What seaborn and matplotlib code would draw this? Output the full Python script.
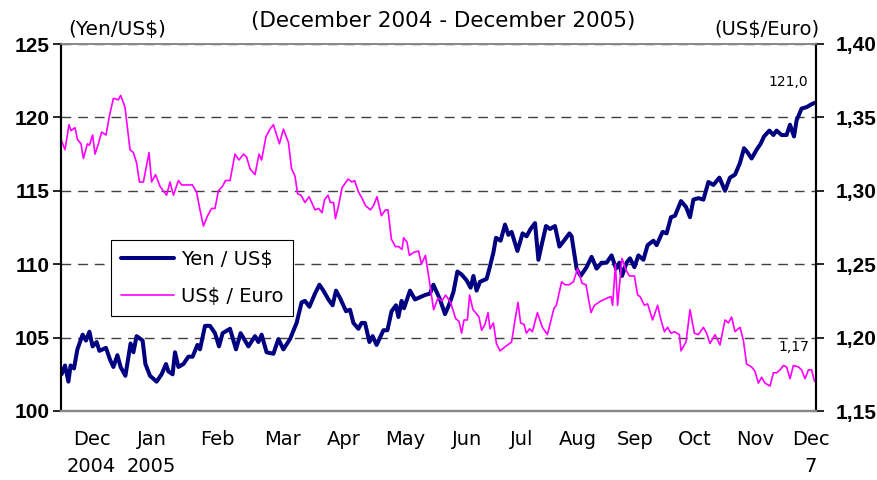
import matplotlib
matplotlib.use("Agg")
import matplotlib.pyplot as plt
import pandas as pd
import seaborn as sns

# days counted from the first quote (late Nov 2004)
yen_day = [0.3, 2.0, 3.7, 4.8, 6.5, 8.2, 10.8, 12.5, 14.2, 15.8, 17.8, 19.2, 22.5, 24.5, 26.2,
           28.2, 29.8, 32.2, 34.8, 36.2, 37.8, 40.8, 42.2, 44.5, 47.8, 50.3, 52.5, 53.7, 55.8,
           57.0, 58.7, 61.2, 63.7, 65.8, 68.2, 69.5, 72.0, 74.5, 77.0, 79.0, 80.8, 84.5, 87.5,
           89.8, 93.7, 97.0, 98.7, 100.3, 102.8, 106.2, 108.7, 111.2, 114.5, 117.8, 120.3,
           122.0, 124.2, 127.0, 129.2, 131.2, 133.7, 135.8, 137.5, 139.5, 142.5, 144.5, 146.2,
           148.7, 150.3, 152.0, 154.2, 155.8, 157.8, 161.2, 163.2, 165.3, 167.5, 168.7, 170.3,
           171.5, 174.5, 177.0, 180.3, 182.0, 184.5, 186.2, 189.5, 192.0, 194.2, 196.2, 198.2,
           200.3, 202.8, 204.8, 206.2, 207.8, 209.5, 212.8, 214.2, 216.2, 217.5, 219.8, 222.0,
           223.7, 225.3, 228.2, 230.8, 232.8, 234.8, 237.0, 238.7, 240.3, 242.5, 244.5, 247.0,
           249.2, 251.5, 254.2, 255.3, 257.8, 259.8, 262.8, 265.3, 267.8, 270.3, 272.8, 275.3,
           277.5, 279.2, 280.5, 282.8, 284.5, 286.7, 288.7, 291.2, 293.3, 296.2, 297.8, 300.8,
           302.8, 305.0, 307.0, 310.0, 312.5, 314.5, 316.2, 318.7, 321.2, 323.7, 326.2, 329.2,
           332.0, 334.5, 337.0, 339.5, 341.5, 342.8, 345.3, 347.8, 349.8, 351.5, 354.2, 356.2,
           357.8, 360.3, 362.8, 364.5, 366.5, 367.8, 370.3, 372.8, 375.3, 377.0]
yen_rate = [102.5, 103.1, 102.0, 103.1, 102.9, 104.2, 105.2, 104.8, 105.4, 104.4, 104.7, 104.1,
            104.3, 103.5, 103.0, 103.8, 103.0, 102.4, 104.6, 104.0, 105.1, 104.8, 103.2, 102.4,
            102.0, 102.5, 103.2, 102.7, 102.5, 104.0, 103.0, 103.2, 103.7, 103.7, 104.5, 104.2,
            105.8, 105.8, 105.3, 104.4, 105.3, 105.6, 104.2, 105.3, 104.4, 105.1, 104.7, 105.2,
            104.0, 103.9, 104.9, 104.2, 104.9, 106.0, 107.4, 107.5, 107.1, 108.0, 108.6, 108.2,
            107.6, 107.2, 108.2, 107.7, 106.8, 106.9, 106.0, 105.6, 106.0, 106.0, 104.7, 105.1,
            104.5, 105.5, 105.5, 106.8, 107.2, 106.4, 107.5, 107.0, 108.2, 107.6, 107.8, 107.9,
            108.0, 108.6, 107.6, 106.6, 107.3, 108.1, 109.5, 109.3, 108.9, 108.4, 109.2, 108.2,
            108.8, 109.0, 109.7, 110.8, 111.8, 111.6, 112.7, 112.0, 112.2, 110.9, 112.1, 111.9,
            112.4, 112.8, 110.3, 111.3, 112.6, 112.4, 112.6, 111.2, 111.6, 112.1, 111.9, 109.7,
            109.2, 109.8, 110.5, 109.7, 110.1, 110.1, 110.6, 109.7, 110.1, 109.2, 110.1, 110.4,
            109.8, 110.6, 110.3, 111.3, 111.6, 111.3, 112.2, 112.1, 113.2, 113.3, 114.3, 113.9,
            113.2, 114.4, 114.5, 114.4, 115.6, 115.4, 115.9, 115.0, 115.9, 116.1, 116.9, 117.9,
            117.7, 117.2, 117.8, 118.2, 118.7, 119.1, 118.8, 119.1, 118.8, 118.8, 119.5, 118.7,
            119.8, 120.6, 120.7, 120.9, 121.0]

euro_day = [0.3, 2.0, 4.0, 5.0, 7.0, 8.2, 10.0, 11.2, 13.2, 14.2, 15.8, 17.0, 18.7, 20.3, 22.5,
            24.2, 26.2, 28.7, 29.8, 32.0, 34.5, 36.2, 37.8, 39.2, 41.2, 44.0, 45.3, 47.3, 49.5,
            52.8, 54.5, 56.2, 58.7, 60.3, 63.7, 65.7, 67.8, 69.5, 71.2, 73.3, 75.3, 77.0, 78.7,
            80.7, 82.3, 84.5, 87.0, 89.0, 91.2, 92.8, 94.5, 97.0, 99.0, 100.3, 102.5, 104.5,
            106.2, 109.2, 111.2, 113.7, 115.3, 117.0, 118.3, 120.0, 122.0, 124.0, 127.0, 128.8,
            130.5, 131.8, 133.5, 134.7, 136.3, 137.2, 138.8, 140.5, 143.5, 145.5, 146.8, 148.8,
            150.5, 152.2, 154.7, 156.3, 158.0, 160.2, 162.2, 163.5, 165.2, 167.2, 168.8, 170.5,
            171.3, 173.0, 174.2, 176.3, 178.8, 180.2, 182.2, 183.8, 186.3, 188.5, 190.5, 192.3,
            194.8, 197.3, 199.0, 200.3, 201.5, 203.2, 204.3, 206.0, 207.3, 209.0, 210.3, 212.0,
            213.5, 214.5, 216.2, 217.7, 219.5, 222.3, 225.3, 227.0, 228.5, 229.8, 231.5, 232.7,
            234.3, 235.7, 238.2, 240.7, 243.2, 246.5, 247.7, 250.3, 252.0, 254.0, 256.2, 258.3,
            260.5, 262.5, 265.0, 266.7, 270.0, 273.3, 275.0, 275.8, 277.2, 278.3, 280.5, 282.5,
            284.2, 286.7, 288.3, 289.5, 291.7, 293.3, 295.8, 298.3, 300.0, 301.7, 303.3, 305.0,
            306.7, 309.2, 310.0, 312.5, 314.5, 316.7, 318.7, 321.2, 322.8, 324.5, 327.0, 329.5,
            332.0, 333.7, 335.3, 337.0, 339.5, 341.2, 342.8, 345.3, 347.0, 348.7, 350.3, 352.0,
            354.5, 356.2, 357.8, 359.5, 361.2, 362.8, 364.5, 366.2, 368.7, 370.3, 372.0, 373.7,
            375.3, 376.8]
euro_rate = [1.334, 1.328, 1.345, 1.341, 1.343, 1.335, 1.332, 1.322, 1.332, 1.331, 1.338, 1.325,
             1.332, 1.340, 1.338, 1.351, 1.363, 1.362, 1.365, 1.357, 1.328, 1.326, 1.319, 1.306,
             1.306, 1.326, 1.306, 1.311, 1.303, 1.297, 1.306, 1.297, 1.307, 1.304, 1.304, 1.304,
             1.299, 1.287, 1.276, 1.283, 1.288, 1.288, 1.300, 1.303, 1.307, 1.307, 1.325, 1.321,
             1.325, 1.323, 1.315, 1.311, 1.325, 1.321, 1.337, 1.342, 1.345, 1.332, 1.342, 1.333,
             1.315, 1.310, 1.298, 1.297, 1.292, 1.296, 1.287, 1.288, 1.285, 1.294, 1.297, 1.292,
             1.292, 1.281, 1.290, 1.302, 1.308, 1.306, 1.307, 1.299, 1.295, 1.290, 1.287, 1.290,
             1.296, 1.283, 1.287, 1.287, 1.267, 1.262, 1.262, 1.260, 1.268, 1.265, 1.256, 1.258,
             1.259, 1.250, 1.256, 1.242, 1.219, 1.227, 1.225, 1.229, 1.224, 1.213, 1.211, 1.203,
             1.212, 1.212, 1.229, 1.219, 1.217, 1.214, 1.205, 1.209, 1.217, 1.206, 1.210, 1.196,
             1.191, 1.194, 1.197, 1.212, 1.224, 1.210, 1.209, 1.203, 1.206, 1.204, 1.217, 1.207,
             1.202, 1.220, 1.222, 1.238, 1.236, 1.236, 1.238, 1.247, 1.237, 1.236, 1.217, 1.222,
             1.225, 1.227, 1.228, 1.222, 1.250, 1.222, 1.254, 1.246, 1.242, 1.242, 1.229, 1.228,
             1.222, 1.223, 1.212, 1.222, 1.212, 1.204, 1.207, 1.203, 1.204, 1.202, 1.191, 1.197,
             1.219, 1.203, 1.202, 1.207, 1.203, 1.196, 1.202, 1.195, 1.212, 1.210, 1.214, 1.204,
             1.207, 1.198, 1.182, 1.180, 1.177, 1.169, 1.173, 1.169, 1.167, 1.176, 1.176, 1.178,
             1.181, 1.180, 1.172, 1.181, 1.180, 1.178, 1.172, 1.178, 1.178, 1.170]

month_labels = ["Dec\n2004", "Jan\n2005", "Feb", "Mar", "Apr", "May", "Jun", "Jul", "Aug",
                "Sep", "Oct", "Nov", "Dec\n7"]
month_pos = [15.3, 45.4, 78.3, 110.9, 141.2, 172.0, 202.9, 230.1, 258.4, 286.9, 317.0, 346.9, 374.9]

yen_ticks = [100, 105, 110, 115, 120, 125]
euro_ticks = [1.15, 1.20, 1.25, 1.30, 1.35, 1.40]

yen = pd.DataFrame({"day": yen_day, "rate": yen_rate})
euro = pd.DataFrame({"day": euro_day, "rate": euro_rate})

sns.set_theme(style="white")
plt.rcParams["font.family"] = ["DejaVu Sans"]
plt.rcParams["text.color"] = "black"
plt.rcParams["xtick.color"] = "black"
plt.rcParams["ytick.color"] = "black"
plt.rcParams["xtick.labelcolor"] = "black"
plt.rcParams["ytick.labelcolor"] = "black"
tick_font = {"family": "Liberation Sans", "weight": "bold", "size": 15}

fig = plt.figure(figsize=(8.77, 4.8), dpi=100)
ax = fig.add_axes([61 / 877, 1 - 411 / 480, 755 / 877, 367 / 480])
ax2 = ax.twinx()

sns.lineplot(data=yen, x="day", y="rate", ax=ax, color="#000080", lw=2.9,
             estimator=None, sort=False, legend=False)
sns.lineplot(data=euro, x="day", y="rate", ax=ax2, color="#FF00FF", lw=1.2,
             estimator=None, sort=False, legend=False)

ax.set_xlim(0, 377.5)
ax.set_ylim(100, 125)
ax2.set_ylim(1.15, 1.40)
ax.set_xlabel("")
ax.set_ylabel("")
ax2.set_xlabel("")
ax2.set_ylabel("")

ax.set_yticks(yen_ticks, [str(t) for t in yen_ticks], fontdict=tick_font)
ax2.set_yticks(euro_ticks, [f"{t:.2f}".replace(".", ",") for t in euro_ticks], fontdict=tick_font)
ax.tick_params(axis="y", direction="out", length=6, width=1.2, color="black",
               labelcolor="black", pad=2, left=True)
ax2.tick_params(axis="y", direction="out", length=6, width=1.2, color="black",
                labelcolor="black", pad=8, right=True)

ax.set_xticks(month_pos, month_labels, fontsize=14)
ax.tick_params(axis="x", length=0, pad=14, labelcolor="black")
for lbl in ax.get_xticklabels():
    lbl.set_linespacing(1.5)

ax.grid(axis="y", color="#404040", linestyle=(0, (7, 5)), lw=1.0)
ax.grid(axis="x", visible=False)
ax2.grid(False)

for a in (ax, ax2):
    a.spines["top"].set_color("#888888")
    a.spines["top"].set_linewidth(1.2)
    a.spines["bottom"].set_color("#888888")
    a.spines["bottom"].set_linewidth(1.6)
    a.spines["left"].set_color("black")
    a.spines["left"].set_linewidth(1.5)
    a.spines["right"].set_color("black")
    a.spines["right"].set_linewidth(1.5)

# end-of-period values
ax.annotate(f"{yen_rate[-1]:.1f}".replace(".", ","), (yen_day[-1], yen_rate[-1]),
            xytext=(-19, 15), textcoords="offset points", ha="center", va="center",
            fontsize=10, color="black")
ax2.annotate(f"{euro_rate[-1]:.2f}".replace(".", ","), (euro_day[-1], euro_rate[-1]),
             xytext=(-15, 25), textcoords="offset points", ha="center", va="center",
             fontsize=10, color="black")

fig.text(117.5 / 877, 1 - 29 / 480, "(Yen/US$)", ha="center", va="center", fontsize=14.5)
fig.text(443 / 877, 1 - 21 / 480, "(December 2004 - December 2005)", ha="center",
         va="center", fontsize=15.5)
fig.text(766.5 / 877, 1 - 29 / 480, "(US$/Euro)", ha="center", va="center", fontsize=14)

handles = [ax.lines[0], ax2.lines[0]]
leg = ax2.legend(handles, ["Yen / US$", "US$ / Euro"], loc="upper left",
                 bbox_to_anchor=(0.066, 0.466), borderaxespad=0, fontsize=14,
                 frameon=True, fancybox=False, edgecolor="black", framealpha=1,
                 handlelength=2.75, handletextpad=0.35, labelspacing=0.95, borderpad=0.5)
leg.get_frame().set_linewidth(0.8)
for t in leg.get_texts():
    t.set_color("black")

fig.savefig("out.png", dpi=100)
